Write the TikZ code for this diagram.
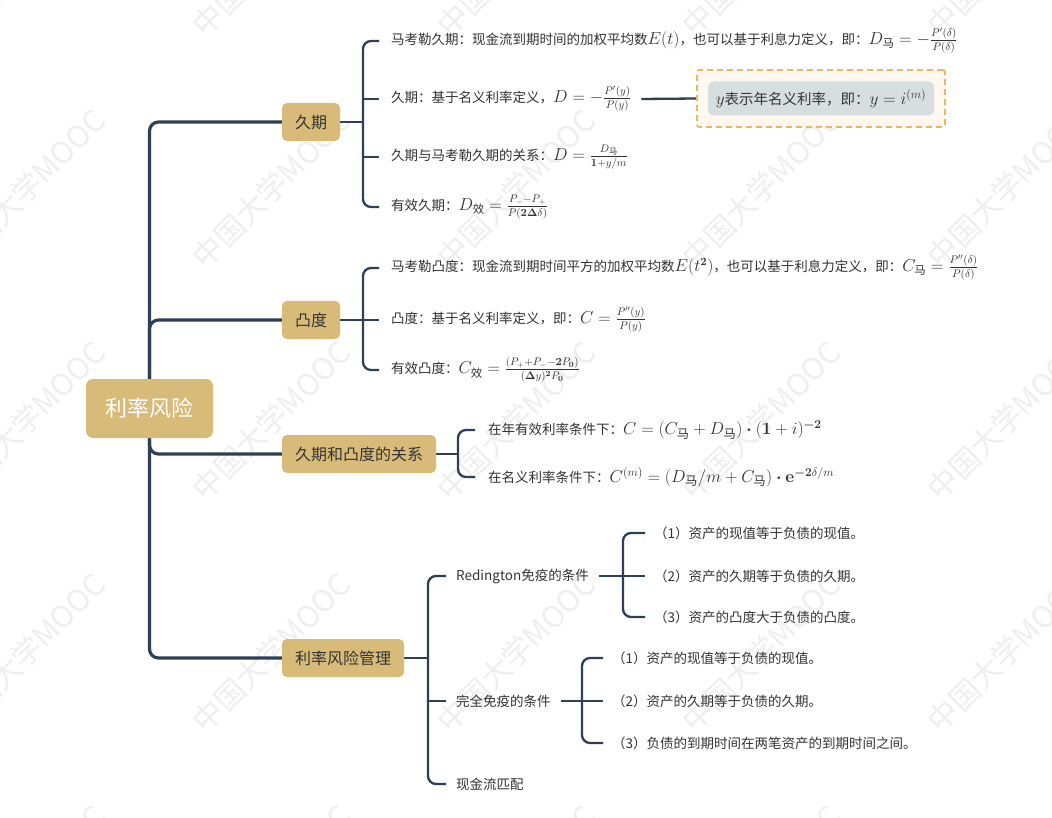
\documentclass[tikz,border=0pt]{standalone}
\usepackage{amsmath}
\usepackage{bm}
\usepackage[no-math]{fontspec}
\setmainfont{Noto Sans CJK SC}
\usetikzlibrary{backgrounds}
\definecolor{gold}{HTML}{D8BB78}
\definecolor{lin}{HTML}{2F4056}
\definecolor{txt}{HTML}{333333}
\definecolor{dashc}{HTML}{E9B865}
\definecolor{notefill}{HTML}{FEF8EF}
\definecolor{notebg}{HTML}{D7DEE0}
\definecolor{wmc}{HTML}{EFEFEF}
\newcommand\mth[1]{{\fontsize{16.3}{18}\selectfont$#1$}}
\newcommand\mthn[1]{{\fontsize{17.5}{19}\selectfont$#1$}}
\newcommand\zhma{\text{马}}
\newcommand\zhxiao{\text{效}}
\begin{document}
\begin{tikzpicture}[x=1pt,y=-1pt,
  rootbox/.style={fill=gold, rounded corners=7pt, text=white, font=\fontsize{22}{26}\selectfont, minimum width=127pt, minimum height=59pt, inner sep=0pt},
  topic/.style={fill=gold, rounded corners=5pt, text=txt, font=\fontsize{16}{19}\selectfont, minimum height=38pt, inner xsep=13pt, inner ysep=0pt},
  leaf/.style={anchor=west, inner sep=0pt, text=txt, font=\fontsize{13.5}{16}\selectfont},
  trunk/.style={draw=lin, line width=3.2pt, rounded corners=9pt},
  branch/.style={draw=lin, line width=2.3pt, rounded corners=8pt},
  wmk/.style={rotate=45, anchor=east, inner sep=0pt, text=wmc, font=\fontsize{30}{30}\selectfont},
  dashbox/.style={draw=dashc, fill=notefill, line width=1.8pt, dash pattern=on 6pt off 4pt, rounded corners=2pt, minimum width=248pt, minimum height=57pt},
  notenode/.style={fill=notebg, rounded corners=6pt, text=txt, font=\fontsize{14.5}{17}\selectfont, minimum width=226pt, minimum height=34pt, inner sep=0pt}
]
\path[use as bounding box] (0,0) rectangle (1052,818);

% level 0 / 1
\node[rootbox] (root) at (149.5,408.5) {利率风险};
\node[topic] (jq) at (311,122) {久期};
\node[topic] (td) at (311,320) {凸度};
\node[topic] (gx) at (359,454) {久期和凸度的关系};
\node[topic] (glm) at (343,658) {利率风险管理};

% group 1
\node[leaf] (a1) at (391,41) {马考勒久期：现金流到期时间的加权平均数\mth{E(t)}，也可以基于利息力定义，即：\mth{D_{\zhma} = -\frac{P'(\delta)}{P(\delta)}}};
\node[leaf] (a2) at (391,99) {久期：基于名义利率定义，\mth{D = -\frac{P'(y)}{P(y)}}};
\node[leaf] (a3) at (391,157) {久期与马考勒久期的关系：\mth{D = \frac{D_{\zhma}}{\mathbf{1}+y/m}}};
\node[leaf] (a4) at (391,207) {有效久期：\mth{D_{\zhxiao} = \frac{P_- - P_+}{P(\mathbf{2\Delta}\delta)}}};
\node[dashbox] (nbox) at (821,98.5) {};
\node[notenode] (note) at (821,98.5) {\mthn{y}表示年名义利率，即：\mthn{y = i^{(m)}}};

% group 2
\node[leaf] (b1) at (391,268) {马考勒凸度：现金流到期时间平方的加权平均数\mth{E(t^{\mathbf{2}})}，也可以基于利息力定义，即：\mth{C_{\zhma} = \frac{P''(\delta)}{P(\delta)}}};
\node[leaf] (b2) at (391,320) {凸度：基于名义利率定义，即：\mth{C = \frac{P''(y)}{P(y)}}};
\node[leaf] (b3) at (391,370) {有效凸度：\mth{C_{\zhxiao} = \frac{(P_+ + P_- - \mathbf{2}P_{\mathbf{0}})}{(\mathbf{\Delta}y)^{\mathbf{2}}P_{\mathbf{0}}}}};

% group 3
\node[leaf] (c1) at (488,430) {在年有效利率条件下：\mthn{C = (C_{\zhma} + D_{\zhma})\bm{\cdot}(\mathbf{1}+i)^{\bm{-2}}}};
\node[leaf] (c2) at (488,477) {在名义利率条件下：\mthn{C^{(m)} = (D_{\zhma}/m + C_{\zhma})\bm{\cdot}\mathbf{e}^{\bm{-2}\delta/m}}};

% group 4
\node[leaf] (r1) at (456,576) {Redington免疫的条件};
\node[leaf] (r2) at (456,701) {完全免疫的条件};
\node[leaf] (r3) at (456,784) {现金流匹配};
\node[leaf] (p1) at (654,533) {（1）资产的现值等于负债的现值。};
\node[leaf] (p2) at (654,576) {（2）资产的久期等于负债的久期。};
\node[leaf] (p3) at (654,617) {（3）资产的凸度大于负债的凸度。};
\node[leaf] (q1) at (612,658) {（1）资产的现值等于负债的现值。};
\node[leaf] (q2) at (612,701) {（2）资产的久期等于负债的久期。};
\node[leaf] (q3) at (612,743) {（3）负债的到期时间在两笔资产的到期时间之间。};

\coordinate (jqb) at (363,122);
\coordinate (tdb) at (363,320);
\coordinate (gxb) at (458,454);
\coordinate (glmb) at (428,658);
\coordinate (rb) at (623,576);
\coordinate (qb) at (582,701);

\begin{scope}[on background layer]
\fill[white] (0,0) rectangle (1052,818);
\foreach \i in {-1,...,3} {
  \foreach \j in {-1,...,3} {
    \node[wmk] at ({345+245*\i},{115+232*\j}) {中国大学MOOC};
  }
}
% trunk
\draw[trunk] (root.north) |- (jq.west);
\draw[trunk] (root.north) |- (td.west);
\draw[trunk] (root.south) |- (gx.west);
\draw[trunk] (root.south) |- (glm.west);
% group 1
\draw[branch] (jq.east) -- (jqb);
\draw[branch] ([xshift=-12pt]a1.west) -- ([xshift=-28pt]a1.west) -- ([xshift=-28pt]a4.west) -- ([xshift=-12pt]a4.west);
\draw[branch] ([xshift=-28pt]a2.west) -- ([xshift=-12pt]a2.west);
\draw[branch] ([xshift=-28pt]a3.west) -- ([xshift=-12pt]a3.west);
\draw[branch] ([xshift=10pt]a2.east) -- (nbox.west);
% group 2
\draw[branch] (td.east) -- (tdb);
\draw[branch] ([xshift=-12pt]b1.west) -- ([xshift=-28pt]b1.west) -- ([xshift=-28pt]b3.west) -- ([xshift=-12pt]b3.west);
\draw[branch] ([xshift=-28pt]b2.west) -- ([xshift=-12pt]b2.west);
% group 3
\draw[branch] (gx.east) -- (gxb);
\draw[branch] ([xshift=-13pt]c1.west) -- ([xshift=-30pt]c1.west) -- ([xshift=-30pt]c2.west) -- ([xshift=-13pt]c2.west);
% group 4
\draw[branch] (glm.east) -- (glmb);
\draw[branch] ([xshift=-10pt]r1.west) -- ([xshift=-28pt]r1.west) -- ([xshift=-28pt]r3.west) -- ([xshift=-10pt]r3.west);
\draw[branch] ([xshift=-28pt]r2.west) -- ([xshift=-10pt]r2.west);
% Redington
\draw[branch] ([xshift=10pt]r1.east) -- (rb);
\draw[branch] ([xshift=-9pt]p1.west) -- ([xshift=-31pt]p1.west) -- ([xshift=-31pt]p3.west) -- ([xshift=-9pt]p3.west);
\draw[branch] ([xshift=-31pt]p2.west) -- ([xshift=-9pt]p2.west);
% complete immunization
\draw[branch] ([xshift=10pt]r2.east) -- (qb);
\draw[branch] ([xshift=-9pt]q1.west) -- ([xshift=-30pt]q1.west) -- ([xshift=-30pt]q3.west) -- ([xshift=-9pt]q3.west);
\draw[branch] ([xshift=-30pt]q2.west) -- ([xshift=-9pt]q2.west);
\end{scope}
\end{tikzpicture}
\end{document}
